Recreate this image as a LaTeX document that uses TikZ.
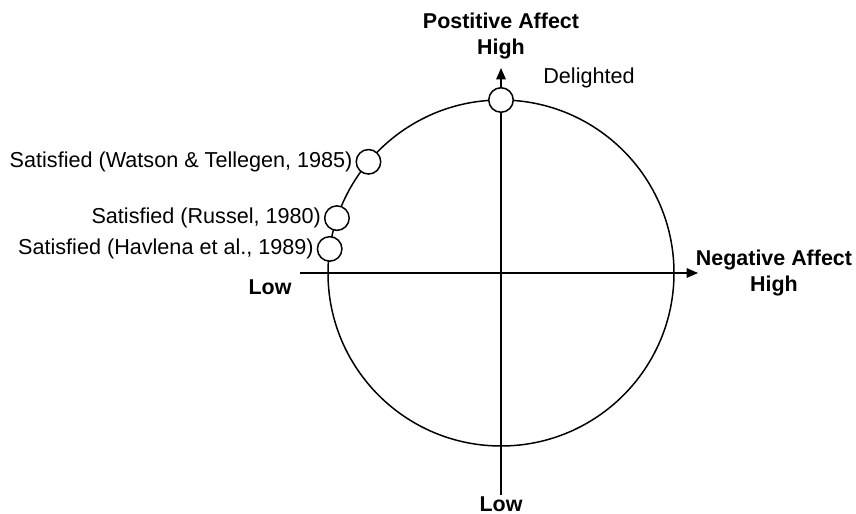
\documentclass[tikz,border=0pt]{standalone}
\usepackage{fontspec}
\setmainfont{Liberation Sans}
\usetikzlibrary{arrows.meta,calc,positioning}

\tikzset{
	axis/.style={line width=0.6pt, -{Triangle[length=6.5pt,width=5.5pt]}},
	mood/.style={circle, draw, line width=0.85pt, fill=white, minimum size=0.49cm, inner sep=0pt},
	moodlabel/.style={inner sep=0pt, font=\fontsize{12.3}{14}\selectfont},
	axislabel/.style={inner sep=0pt, align=center, font=\fontsize{12.2}{14.4}\selectfont\bfseries}
}

\begin{document}
\begin{tikzpicture}[x=0.02cm, y=0.02cm]
		\useasboundingbox (0,0) rectangle (856,514);
		
		% Axes
		\coordinate (c) at (501,241);
		\coordinate (nalow) at (300,241);
		\coordinate (nahigh) at (698,241);
		\coordinate (palow) at (501,19);
		\coordinate (pahigh) at (501,446);
		\draw[axis] (nalow) -- (nahigh);
		\draw[axis] (palow) -- (pahigh);
		
		% Circle
		\draw[line width=0.85pt] (c) circle[radius=173];
		
		% Moods on the circle
		\node[mood] (delighted) at ($(c)+(90:173)$) {};
		\node[mood] (watson) at ($(c)+(140:173)$) {};
		\node[mood] (russel) at ($(c)+(161.5:173)$) {};
		\node[mood] (havlena) at ($(c)+(172:173)$) {};
		
		\node[moodlabel, anchor=west] (delightedlbl) at (543,436) {Delighted};
		\node[moodlabel, left=1.5pt of watson] (watsonlbl) {Satisfied (Watson \& Tellegen, 1985)};
		\node[moodlabel, left=1.5pt of russel] (russellbl) {Satisfied (Russel, 1980)};
		\node[moodlabel, left=1.5pt of havlena] (havlenalbl) {Satisfied (Havlena et al., 1989)};
		
		% Axis labels
		\node[axislabel] (pahighlbl) at (501,478) {Postitive Affect\\High};
		\node[axislabel] (nahighlbl) at (774,241) {Negative Affect\\High};
		\node[axislabel] (nalowlbl) at (270,227) {Low};
		\node[axislabel] (palowlbl) at (501,10) {Low};
	\end{tikzpicture}
\end{document}
